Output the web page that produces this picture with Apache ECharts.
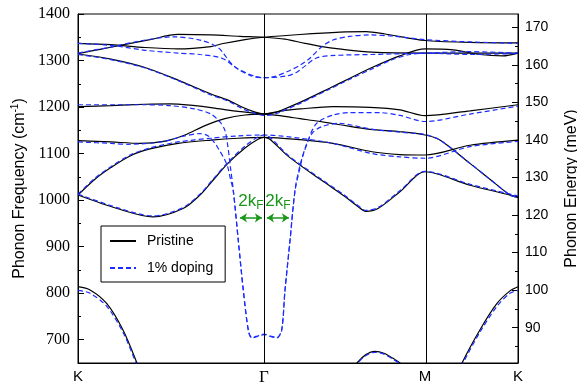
<!DOCTYPE html>
<html>
<head>
<meta charset="utf-8">
<title>Phonon dispersion</title>
<script src="https://cdn.jsdelivr.net/npm/echarts@6/dist/echarts.min.js"></script>
</head>
<body style="margin:0">
<div id="main" style="width:577px;height:387px;"></div>
<script>
// path coordinate: K = 0, Gamma = 1, M = 1.866, K = 2.366 (units of |K-Gamma|)
var kPoints = [0, 1, 1.866, 2.366];
var kLabels = ['K', '{g|Γ}', 'M', 'K'];
var cmTicks = [700, 800, 900, 1000, 1100, 1200, 1300, 1400];
var cmMinor = [750, 850, 950, 1050, 1150, 1250, 1350];
var meVTicks = [90, 100, 110, 120, 130, 140, 150, 160, 170];
var meVMinor = [85, 95, 105, 115, 125, 135, 145, 155, 165];
var CM_PER_MEV = 8.0655;

// pristine bands (cm^-1)
var p1 = [[0,1337],[0.177,1334],[0.360,1328],[0.538,1325],[0.715,1330],[0.774,1336],[0.898,1345],[1,1350],
  [1.194,1356],[1.409,1361],[1.548,1362],[1.651,1357],[1.866,1343],[2.108,1339],[2.366,1338]];
var p2 = [[0,1315],[0.118,1324],[0.234,1333],[0.387,1345],[0.538,1356],[0.715,1355],[0.871,1352],[1,1350],
  [1.113,1346],[1.220,1337],[1.312,1330],[1.403,1325],[1.581,1318],[1.866,1316],[2.108,1316],[2.366,1316]];
var p3 = [[0,1314],[0.177,1303],[0.360,1285],[0.538,1258],[0.715,1228],[0.806,1215],[0.882,1200],[0.952,1189],[1,1185],
  [1.059,1188],[1.086,1192],[1.194,1210],[1.355,1241],[1.462,1262],[1.581,1285],[1.731,1310],[1.866,1325],
  [2.016,1323],[2.161,1313],[2.285,1310],[2.366,1316]];
var p4 = [[0,1201],[0.177,1203],[0.360,1206],[0.495,1207],[0.629,1203],[0.715,1199],[0.817,1193],[0.925,1188],[1,1185],
  [1.097,1192],[1.194,1196],[1.371,1201],[1.570,1199.5],[1.731,1194],[1.866,1181.5],[2.108,1192],[2.366,1205]];
var p5 = [[0,1128],[0.177,1125],[0.333,1122],[0.468,1127],[0.575,1140],[0.683,1160],[0.790,1175],[0.898,1183],[1,1185],
  [1.113,1180],[1.194,1175],[1.285,1170],[1.409,1162],[1.570,1152],[1.731,1147],[1.866,1140],[1.946,1129],
  [2.108,1079],[2.215,1045],[2.323,1011],[2.366,1006]];
var p6 = [[0,1011],[0.091,1045],[0.177,1070],[0.280,1095],[0.387,1110],[0.538,1122],[0.715,1129],[0.860,1133],[1,1135],
  [1.194,1130],[1.371,1122],[1.581,1104],[1.731,1098],[1.866,1097],[2.108,1118],[2.366,1129]];
var p7 = [[0,1011],[0.210,982],[0.403,964],[0.565,982],[0.656,1011],[0.720,1040],[0.806,1079],[0.898,1112],[0.968,1131],[1,1135],
  [1.032,1131],[1.134,1093],[1.312,1042],[1.435,1008],[1.500,988],[1.548,976],[1.613,982],[1.731,1018],[1.866,1061],
  [2.108,1032],[2.366,1007]];
var p8a = [[0,814],[0.065,807],[0.154,778],[0.242,721],[0.317,650],[0.333,630]];
var p8b = [[1.489,640],[1.500,650],[1.548,668],[1.597,675],[1.645,671],[1.694,660],[1.731,650],[1.742,640]];
var p8c = [[2.050,630],[2.065,650],[2.161,721],[2.253,778],[2.323,805],[2.366,814]];

// 1% doping bands (cm^-1)
var d1 = [[0,1316],[0.188,1330],[0.333,1342],[0.511,1351],[0.656,1344],[0.753,1328],[0.833,1290],[0.925,1268],[1,1263],
  [1.059,1266],[1.124,1276],[1.194,1290],[1.247,1305],[1.312,1330],[1.371,1344],[1.462,1352],[1.570,1355],[1.704,1352],
  [1.866,1345],[2.108,1340],[2.366,1337]];
var d2 = [[0,1337],[0.188,1332],[0.360,1322],[0.538,1316],[0.656,1313],[0.774,1305],[0.860,1282],[0.952,1266],[1,1263],
  [1.124,1267],[1.177,1275],[1.220,1288],[1.285,1306],[1.382,1311],[1.581,1313],[1.866,1316],[2.108,1319],[2.366,1316]];
var d3 = [[0,1313],[0.177,1302],[0.360,1284],[0.538,1257],[0.715,1226],[0.806,1213],[0.882,1197],[0.952,1186],[1,1182],
  [1.059,1185],[1.086,1189],[1.194,1208],[1.355,1239],[1.462,1260],[1.581,1282],[1.677,1300],[1.785,1313],[1.866,1316],
  [2.108,1313],[2.366,1315]];
var d4 = [[0,1205],[0.177,1205],[0.360,1205],[0.495,1203],[0.629,1196],[0.715,1185],[0.763,1168],[0.790,1150],[0.806,1115],
  [0.820,1070],[0.835,1022],[0.862,914],[0.889,807],[0.916,721],[0.934,705],[0.965,708],[1,712],
  [1.035,708],[1.070,705],[1.095,721],[1.113,807],[1.140,914],[1.167,1022],[1.194,1075],[1.229,1120],[1.283,1165],
  [1.373,1183],[1.462,1188],[1.624,1188],[1.731,1182],[1.866,1169],[2.108,1185],[2.366,1202]];
var d5 = [[0,1125],[0.177,1122],[0.269,1120],[0.446,1125],[0.575,1138],[0.656,1143],[0.700,1138],[0.737,1122],[0.753,1112],
  [0.790,1086],[0.806,1070],[0.820,1045],[0.835,1020],[0.862,912],[0.889,805],[0.916,719],[0.934,704],[0.965,707],[1,711],
  [1.035,707],[1.070,704],[1.095,719],[1.113,805],[1.140,912],[1.167,1020],[1.194,1070],[1.213,1100],[1.258,1143],
  [1.312,1158],[1.403,1165],[1.570,1153],[1.731,1146],[1.866,1141],[1.946,1129],[2.108,1079],[2.215,1045],[2.323,1011],[2.366,1006]];
var d6 = [[0,1013],[0.091,1047],[0.177,1072],[0.280,1097],[0.387,1112],[0.538,1125],[0.715,1133],[0.860,1138],[1,1140],
  [1.194,1133],[1.371,1122],[1.581,1100],[1.731,1093],[1.866,1090],[2.108,1115],[2.366,1126]];
var d7 = [[0,1013],[0.210,984],[0.403,966],[0.565,984],[0.656,1013],[0.720,1042],[0.806,1081],[0.898,1116],[0.968,1136],[1,1140],
  [1.032,1135],[1.134,1095],[1.312,1044],[1.435,1010],[1.500,990],[1.548,978],[1.613,984],[1.731,1020],[1.866,1062],
  [2.108,1034],[2.366,1009]];
var d8a = [[0,806],[0.065,800],[0.154,772],[0.242,716],[0.317,645],[0.333,628]];
var d8b = [[1.489,638],[1.500,648],[1.548,666],[1.597,673],[1.645,669],[1.694,658],[1.731,648],[1.742,638]];
var d8c = [[2.050,625],[2.065,645],[2.161,716],[2.253,772],[2.323,800],[2.366,806]];

var pristineBands = [p1, p2, p3, p4, p5, p6, p7, p8a, p8b, p8c];
var dopedBands = [d1, d2, d3, d4, d5, d6, d7, d8a, d8b, d8c];

var BLACK = '#000000';
var BLUE = '#1a2cff';
var GREEN = '#1a961a';

var series = [];
pristineBands.forEach(function (b, i) {
    var s = {
        name: 'Pristine', type: 'line', data: b, symbol: 'none', smooth: 0.3,
        lineStyle: {color: BLACK, width: 1.2}, itemStyle: {color: BLACK},
        z: 2, silent: true
    };
    if (i === 0) {
        s.markLine = {
            silent: true, symbol: 'none', label: {show: false},
            lineStyle: {color: BLACK, width: 1, type: 'solid'},
            data: [{xAxis: kPoints[1]}, {xAxis: kPoints[2]}]
        };
    }
    series.push(s);
});
dopedBands.forEach(function (b, i) {
    var s = {
        name: '1% doping', type: 'line', data: b, symbol: 'none', smooth: 0.3,
        lineStyle: {color: BLUE, width: 1.2, type: [5, 3]}, itemStyle: {color: BLUE},
        z: 3, silent: true
    };
    if (i === 0) {
        s.markLine = {
            silent: true, symbol: ['arrow', 'arrow'], symbolSize: [7, 7],
            lineStyle: {color: GREEN, width: 1.5, type: 'solid'},
            label: {
                show: true, position: 'insideMiddleTop', distance: 6,
                formatter: '{a|2k}{b|F}',
                rich: {
                    a: {fontSize: 17, color: GREEN, fontFamily: 'Liberation Sans'},
                    b: {fontSize: 12, color: GREEN, fontFamily: 'Liberation Sans', padding: [9, 0, 0, 0]}
                }
            },
            data: [
                [{coord: [0.871, 962]}, {coord: [0.989, 962]}],
                [{coord: [1.016, 962]}, {coord: [1.134, 962]}]
            ]
        };
    }
    series.push(s);
});

var myChart = echarts.init(document.getElementById('main'));
var option = {
    animation: false,
    grid: {left: 78, right: 59, top: 14, bottom: 24, show: true, borderColor: BLACK, borderWidth: 1,
        outerBoundsMode: 'none'},
    legend: {
        data: ['Pristine', '1% doping'],
        orient: 'vertical', left: 101, top: 226,
        itemWidth: 26, itemHeight: 14, itemGap: 13,
        padding: [8, 12, 7, 8],
        itemStyle: {opacity: 0},
        borderColor: BLACK, borderWidth: 1, backgroundColor: '#fff',
        textStyle: {fontSize: 14, fontFamily: 'Liberation Sans', color: BLACK, padding: [0, 0, 0, 6]}
    },
    xAxis: {
        type: 'value', min: 0, max: kPoints[3],
        axisLine: {lineStyle: {color: BLACK}},
        axisTick: {show: false},
        splitLine: {show: false},
        axisLabel: {
            customValues: kPoints, margin: 6,
            color: BLACK, fontSize: 15, fontFamily: 'Liberation Sans',
            formatter: function (v) {
                for (var i = 0; i < kPoints.length; i++) {
                    if (Math.abs(v - kPoints[i]) < 1e-6) return kLabels[i];
                }
                return '';
            },
            rich: {g: {fontSize: 17, fontFamily: 'Liberation Serif', color: BLACK}}
        }
    },
    yAxis: [{
        type: 'value', position: 'left', min: 650, max: 1400,
        name: 'Phonon Frequency (cm{sup|-1})', nameLocation: 'middle', nameRotate: 90, nameGap: 46,
        nameTextStyle: {fontSize: 16, fontFamily: 'Liberation Sans', color: BLACK,
            rich: {sup: {fontSize: 10, fontFamily: 'Liberation Sans', color: BLACK, padding: [0, 0, 8, 0]}}},
        axisLine: {show: true, lineStyle: {color: BLACK}},
        axisTick: {show: true, inside: true, length: 6, customValues: cmTicks, lineStyle: {color: BLACK}},
        axisLabel: {customValues: cmTicks, margin: 8, color: BLACK, fontSize: 16, fontFamily: 'Liberation Serif',
            formatter: function (v) { return String(Math.round(v)); }},
        splitLine: {show: false}
    }, {
        type: 'value', position: 'right', min: 650 / CM_PER_MEV, max: 1400 / CM_PER_MEV,
        name: 'Phonon Energy (meV)', nameLocation: 'middle', nameRotate: 90, nameGap: 46,
        nameTextStyle: {fontSize: 16, fontFamily: 'Liberation Sans', color: BLACK},
        axisLine: {show: true, lineStyle: {color: BLACK}},
        axisTick: {show: true, inside: true, length: 6, customValues: meVTicks, lineStyle: {color: BLACK}},
        axisLabel: {customValues: meVTicks, margin: 7, color: BLACK, fontSize: 14, fontFamily: 'Liberation Sans',
            formatter: function (v) { return String(Math.round(v)); }},
        splitLine: {show: false}
    }, {
        type: 'value', position: 'left', min: 650, max: 1400,
        axisLine: {show: false}, axisLabel: {show: false}, splitLine: {show: false},
        axisTick: {show: true, inside: true, length: 3, customValues: cmMinor, lineStyle: {color: BLACK}}
    }, {
        type: 'value', position: 'right', min: 650 / CM_PER_MEV, max: 1400 / CM_PER_MEV,
        axisLine: {show: false}, axisLabel: {show: false}, splitLine: {show: false},
        axisTick: {show: true, inside: true, length: 3, customValues: meVMinor, lineStyle: {color: BLACK}}
    }],
    series: series
};
myChart.setOption(option);
</script>
</body>
</html>
